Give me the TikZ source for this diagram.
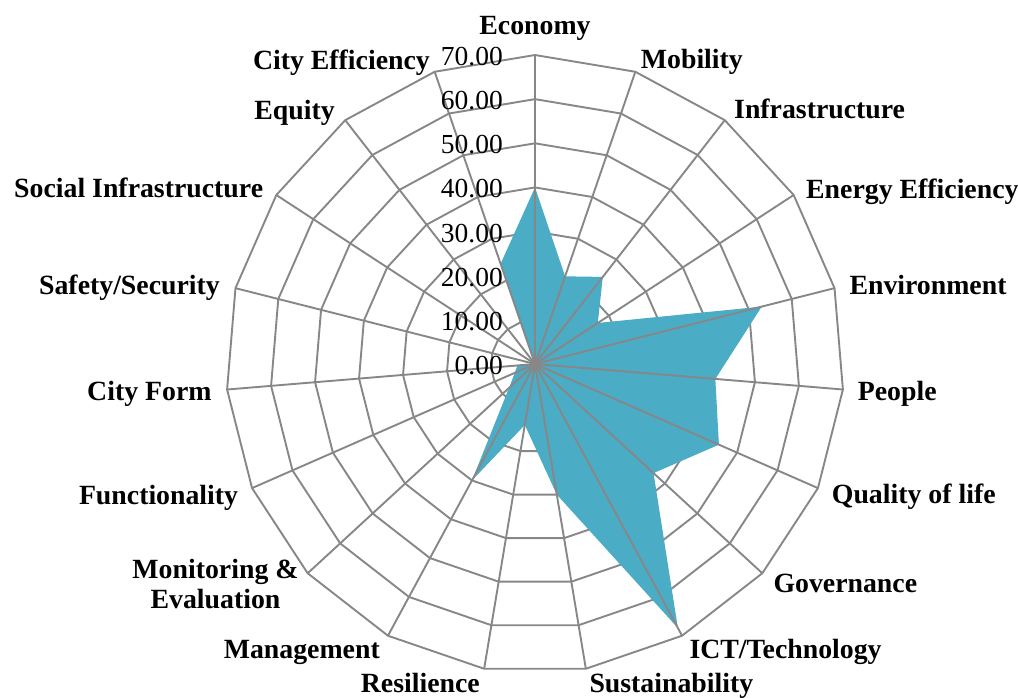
\documentclass[tikz,border=0pt]{standalone}
\usepackage{fontspec}
\setmainfont{Liberation Serif}
\begin{document}
\begin{tikzpicture}[x=1pt,y=1pt]
\useasboundingbox (0,0) rectangle (1018,697);
\colorlet{gridc}{black!47}
\definecolor{fillc}{RGB}{75,172,198}
\tikzset{
  gridline/.style={draw=gridc,line width=1.9pt,line join=miter},
  lab/.style={font=\fontsize{27.8}{30}\selectfont\bfseries,inner sep=0pt},
  ticklab/.style={font=\fontsize{27.5}{30}\selectfont,inner sep=0pt,anchor=base east}
}
\coordinate (C) at (535,333);
\begin{scope}[shift={(C)}]
  % rings
  \foreach \k in {1,...,7}{
    \draw[gridline] (90:{\k*44.14}) \foreach \i in {1,...,18}{ -- ({90-\i*18.947368}:{\k*44.14})} -- cycle;
  }
  % data area
  \fill[fillc] (90:{40*4.414}) \foreach \v [count=\i] in {21,25,17,53,41,45.5,36.5,68,30,14,30,8,5,4,0,10,0,24}{ -- ({90-\i*18.947368}:{\v*4.414})} -- cycle;
  % spokes
  \foreach \i in {0,...,18}{
    \coordinate (s\i) at ({90-\i*18.947368}:309);
  }
\end{scope}
\foreach \i in {0,...,18}{
  \draw[gridline] (C) -- (s\i);
}
% tick labels
\foreach \v [count=\j from 0] in {0.00,10.00,20.00,30.00,40.00,50.00,60.00,70.00}{
  \node[ticklab] (t\j) at (503,{333+\j*44.14-10.5}) {\v};
}
% category labels
\node[lab,anchor=base] (l0) at (535,662) {Economy};
\node[lab,anchor=base west] (l1) at (640.7,628.7) {Mobility};
\node[lab,anchor=base west] (l2) at (734,578.7) {Infrastructure};
\node[lab,anchor=base west] (l3) at (806,498.7) {Energy Efficiency};
\node[lab,anchor=base west] (l4) at (849.3,402) {Environment};
\node[lab,anchor=base west] (l5) at (857.7,296) {People};
\node[lab,anchor=base west] (l6) at (831.7,193.7) {Quality of life};
\node[lab,anchor=base west] (l7) at (773.3,104.3) {Governance};
\node[lab,anchor=base west] (l8) at (689.3,38.7) {ICT/Technology};
\node[lab,anchor=base west] (l9) at (589.3,5) {Sustainability};
\node[lab,anchor=base east] (l10) at (480,4.7) {Resilience};
\node[lab,anchor=base east] (l11) at (380,38.7) {Management};
\node[lab,anchor=base] (l12a) at (215.5,118.7) {Monitoring \&};
\node[lab,anchor=base] (l12b) at (215.5,88.7) {Evaluation};
\node[lab,anchor=base east] (l13) at (238.3,193) {Functionality};
\node[lab,anchor=base east] (l14) at (211.7,296.3) {City Form};
\node[lab,anchor=base east] (l15) at (220,402.7) {Safety/Security};
\node[lab,anchor=base east] (l16) at (263.3,499.7) {Social Infrastructure};
\node[lab,anchor=base east] (l17) at (335,577.7) {Equity};
\node[lab,anchor=base east] (l18) at (430,627.7) {City Efficiency};
\end{tikzpicture}
\end{document}
